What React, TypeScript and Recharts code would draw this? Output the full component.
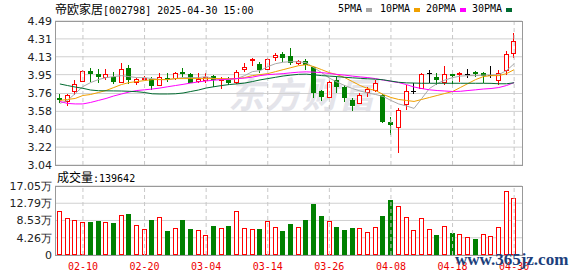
import React from 'react';
import { ComposedChart, Bar, Line, XAxis, YAxis, CartesianGrid, ReferenceLine } from 'recharts';

const dates = [
  '02-05', '02-06', '02-07', '02-10', '02-11', '02-12', '02-13', '02-14', '02-17', '02-18',
  '02-19', '02-20', '02-21', '02-24', '02-25', '02-26', '02-27', '02-28', '03-03', '03-04',
  '03-05', '03-06', '03-07', '03-10', '03-11', '03-12', '03-13', '03-14', '03-17', '03-18',
  '03-19', '03-20', '03-21', '03-24', '03-25', '03-26', '03-27', '03-28', '03-31', '04-01',
  '04-02', '04-03', '04-07', '04-08', '04-09', '04-10', '04-11', '04-14', '04-15', '04-16',
  '04-17', '04-18', '04-21', '04-22', '04-23', '04-24', '04-25', '04-28', '04-29', '04-30',
];

const opens = [
  3.71, 3.68, 3.785, 3.889, 3.986, 3.956, 3.929, 3.929, 3.879, 4.014,
  3.88, 3.903, 3.903, 3.846, 3.913, 3.913, 3.973, 3.956, 3.886, 3.896,
  3.936, 3.90, 3.896, 3.879, 4.003, 4.095, 4.054, 4.003, 4.124, 4.155,
  4.137, 4.064, 4.087, 4.024, 3.788, 3.728, 3.896, 3.822, 3.694, 3.661,
  3.778, 3.795, 3.745, 3.476, 3.419, 3.654, 3.785, 3.812, 3.963, 3.923,
  3.879, 3.96, 3.956, 3.956, 3.98, 3.963, 3.946, 3.90, 4.00, 4.171,
];
const highs = [
  3.75, 3.75, 3.896, 3.997, 4.02, 4.003, 4.007, 3.973, 4.064, 4.047,
  3.913, 3.936, 3.923, 3.97, 3.97, 3.98, 4.014, 3.963, 3.963, 3.963,
  3.946, 3.93, 3.93, 3.997, 4.064, 4.12, 4.074, 4.12, 4.165, 4.181,
  4.215, 4.10, 4.104, 4.037, 3.795, 3.896, 3.93, 3.845, 3.712, 3.762,
  3.828, 3.896, 3.752, 3.526, 3.611, 3.845, 3.863, 3.97, 3.997, 3.97,
  4.037, 3.97, 3.98, 4.007, 3.985, 3.98, 4.037, 3.997, 4.19, 4.372,
];
const lows = [
  3.66, 3.63, 3.745, 3.88, 3.873, 3.863, 3.896, 3.853, 3.863, 3.856,
  3.846, 3.889, 3.795, 3.836, 3.88, 3.896, 3.929, 3.863, 3.863, 3.863,
  3.823, 3.81, 3.846, 3.856, 3.98, 4.04, 3.963, 3.997, 4.09, 4.08,
  4.047, 4.05, 3.997, 3.712, 3.687, 3.712, 3.762, 3.677, 3.587, 3.654,
  3.728, 3.778, 3.466, 3.342, 3.164, 3.594, 3.752, 3.802, 3.863, 3.846,
  3.846, 3.846, 3.879, 3.913, 3.93, 3.869, 3.913, 3.846, 3.946, 4.115,
];
const closes = [
  3.69, 3.745, 3.853, 3.986, 3.953, 3.929, 3.953, 3.879, 4.003, 3.896,
  3.903, 3.913, 3.836, 3.923, 3.896, 3.97, 3.956, 3.869, 3.903, 3.929,
  3.896, 3.91, 3.869, 3.98, 4.03, 4.105, 3.997, 4.107, 4.147, 4.114,
  4.064, 4.087, 4.047, 3.762, 3.728, 3.879, 3.829, 3.712, 3.634, 3.745,
  3.802, 3.869, 3.476, 3.443, 3.594, 3.785, 3.785, 3.956, 3.963, 3.896,
  3.956, 3.939, 3.963, 3.956, 3.953, 3.939, 3.946, 3.963, 4.157, 4.289,
];

const ma5 = [
  3.66, 3.69, 3.76, 3.83, 3.87, 3.90, 3.92, 3.93, 3.94, 3.93,
  3.92, 3.92, 3.91, 3.90, 3.90, 3.91, 3.92, 3.92, 3.92, 3.93,
  3.91, 3.90, 3.90, 3.91, 3.94, 3.98, 3.99, 4.03, 4.06, 4.075,
  4.08, 4.08, 4.07, 4.02, 3.97, 3.915, 3.875, 3.84, 3.81, 3.785,
  3.765, 3.75, 3.73, 3.69, 3.655, 3.635, 3.61, 3.71, 3.81, 3.86,
  3.895, 3.92, 3.935, 3.94, 3.94, 3.945, 3.945, 3.95, 3.99, 4.06,
];
const ma10 = [
  3.69, 3.70, 3.71, 3.74, 3.75, 3.77, 3.79, 3.82, 3.85, 3.87,
  3.88, 3.89, 3.90, 3.90, 3.90, 3.91, 3.91, 3.91, 3.91, 3.91,
  3.91, 3.91, 3.91, 3.91, 3.92, 3.94, 3.95, 3.96, 3.98, 4.00,
  4.02, 4.04, 4.05, 4.03, 4.00, 3.97, 3.95, 3.92, 3.88, 3.84,
  3.81, 3.79, 3.75, 3.72, 3.70, 3.69, 3.68, 3.70, 3.72, 3.74,
  3.76, 3.78, 3.82, 3.86, 3.90, 3.93, 3.94, 3.94, 3.96, 4.00,
];
const ma20 = [
  3.68, 3.66, 3.655, 3.655, 3.67, 3.69, 3.71, 3.735, 3.755, 3.775,
  3.79, 3.797, 3.805, 3.815, 3.828, 3.84, 3.852, 3.865, 3.877, 3.886,
  3.894, 3.90, 3.905, 3.91, 3.915, 3.925, 3.94, 3.95, 3.955, 3.96,
  3.968, 3.975, 3.978, 3.975, 3.97, 3.962, 3.952, 3.945, 3.935, 3.927,
  3.92, 3.91, 3.895, 3.882, 3.87, 3.85, 3.825, 3.81, 3.797, 3.79,
  3.785, 3.78, 3.782, 3.79, 3.797, 3.805, 3.81, 3.82, 3.84, 3.87,
];
const ma30 = [
  3.856, 3.84, 3.825, 3.812, 3.795, 3.788, 3.787, 3.786, 3.785, 3.782,
  3.778, 3.77, 3.757, 3.755, 3.755, 3.757, 3.765, 3.78, 3.795, 3.815,
  3.828, 3.84, 3.85, 3.857, 3.865, 3.88, 3.897, 3.91, 3.923, 3.936,
  3.945, 3.953, 3.955, 3.948, 3.94, 3.935, 3.93, 3.923, 3.918, 3.913,
  3.908, 3.904, 3.898, 3.885, 3.873, 3.867, 3.865, 3.863, 3.863, 3.863,
  3.863, 3.863, 3.863, 3.863, 3.863, 3.863, 3.862, 3.858, 3.858, 3.868,
];

const volumes = [
  108700, 90700, 85700, 81500, 81500, 84000, 81500, 79900, 98800, 101300,
  73400, 63500, 86500, 93100, 59300, 66000, 86500, 64200, 61000, 48600,
  71700, 66700, 71700, 108700, 66000, 63500, 64200, 84000, 69200, 59300,
  76600, 68400, 86500, 126000, 96400, 83200, 69200, 61800, 66700, 66000,
  56800, 68400, 96400, 135900, 120300, 93100, 61000, 90700, 63500, 48600,
  70900, 54400, 51100, 43700, 38800, 51100, 46200, 68400, 157400, 139642,
];
// 1 = 涨 (red), 0 = 跌 (green)
const volUp = [
  1, 1, 1, 1, 0, 0, 1, 0, 1, 0,
  1, 1, 0, 1, 0, 1, 0, 0, 1, 1,
  0, 1, 0, 1, 1, 1, 0, 1, 1, 0,
  0, 1, 0, 0, 0, 1, 0, 0, 0, 1,
  1, 1, 0, 0, 1, 1, 1, 1, 1, 0,
  1, 0, 1, 1, 0, 1, 1, 1, 1, 1,
];

const labelDates = ['02-10', '02-20', '03-04', '03-14', '03-26', '04-08', '04-18', '04-30'];
const priceTicks = [3.04, 3.22, 3.40, 3.58, 3.76, 3.95, 4.13, 4.31, 4.49];
const volTicks = [0, 42600, 85300, 127900, 170500];
const volTickLabels = ['0', '4.26万', '8.53万', '12.79万', '17.05万'];

const data = dates.map((date, i) => ({
  date,
  open: opens[i],
  high: highs[i],
  low: lows[i],
  close: closes[i],
  ma5: ma5[i],
  ma10: ma10[i],
  ma20: ma20[i],
  ma30: ma30[i],
  vol: volumes[i],
  volUp: volUp[i] === 1,
}));

const RED = '#ff0000';
const GREEN = '#008000';
const MONO = '"DejaVu Sans Mono", monospace';
const CJK = '"Noto Sans CJK SC", sans-serif';

const Candle = (props: any) => {
  const { x, y, width, height, payload } = props;
  const { open, close, high, low } = payload;
  const top = Math.min(y, y + height);
  const bottom = Math.max(y, y + height);
  const span = high - low || 1;
  const py = (v: number) => Math.round(top + ((high - v) / span) * (bottom - top));
  const left = Math.round(x + width / 2 - 2.5);
  const cx = left + 2.5;
  if (close === open) {
    const yc = py(close) + 0.5;
    return (
      <g>
        <line x1={cx} x2={cx} y1={Math.round(top)} y2={Math.round(bottom)} stroke="#000" />
        <line x1={left} x2={left + 5} y1={yc} y2={yc} stroke="#000" />
      </g>
    );
  }
  const up = close > open;
  const color = up ? RED : GREEN;
  const yTop = py(Math.max(open, close));
  const yBot = py(Math.min(open, close));
  return (
    <g>
      <line x1={cx} x2={cx} y1={Math.round(top)} y2={Math.round(bottom)} stroke={color} />
      {up ? (
        <rect x={left + 0.5} y={yTop + 0.5} width={4} height={Math.max(1, yBot - yTop)} fill="#fff" stroke={color} />
      ) : (
        <rect x={left} y={yTop} width={5} height={Math.max(1, yBot - yTop)} fill={color} />
      )}
    </g>
  );
};

const VolBar = (props: any) => {
  const { x, y, width, height, payload } = props;
  const left = Math.round(x + width / 2 - 2.5);
  const top = Math.round(y);
  const h = Math.round(y + height) - top;
  if (payload.volUp) {
    return <rect x={left + 0.5} y={top + 0.5} width={4} height={h - 1} fill="#fff" stroke={RED} />;
  }
  return <rect x={left} y={top} width={5} height={h} fill={GREEN} />;
};

const DateTick = (props: any) => {
  const { x, y, payload } = props;
  if (!labelDates.includes(payload.value)) return <g />;
  return (
    <text x={x} y={y} dy={7} textAnchor="middle" fill="#ee0000" fontSize={10} fontFamily={MONO}>
      {payload.value}
    </text>
  );
};

const legendItems = [
  { label: '5PMA', color: '#a8a8a8', x: 338 },
  { label: '10PMA', color: '#f0a000', x: 380 },
  { label: '20PMA', color: '#ff00ff', x: 426 },
  { label: '30PMA', color: '#006a30', x: 472 },
];

const frame = (top: number, height: number): React.CSSProperties => ({
  position: 'absolute',
  left: 55,
  top,
  width: 468,
  height,
  border: '1px solid #999',
  boxSizing: 'border-box',
  pointerEvents: 'none',
});

export default function App() {
  return (
    <div
      style={{
        position: 'absolute',
        left: 0,
        top: 0,
        width: 578,
        height: 276,
        background: '#fff',
        overflow: 'hidden',
        fontFamily: '"DejaVu Sans", sans-serif',
      }}
    >
      <div
        style={{
          position: 'absolute',
          left: 228,
          top: 72,
          fontSize: 36,
          fontWeight: 'bold',
          fontStyle: 'italic',
          color: '#e4e4ea',
          fontFamily: CJK,
          lineHeight: '40px',
          letterSpacing: 1,
          whiteSpace: 'nowrap',
        }}
      >
        东方财富
      </div>

      <div style={{ position: 'absolute', left: 55, top: 2, lineHeight: '14px', whiteSpace: 'nowrap', color: '#000' }}>
        <span style={{ fontFamily: CJK, fontSize: 12 }}>帝欧家居</span>
        <span style={{ fontFamily: MONO, fontSize: 10 }}>[002798] 2025-04-30 15:00</span>
      </div>

      {legendItems.map((it) => (
        <React.Fragment key={it.label}>
          <div style={{ position: 'absolute', left: it.x, top: 2, lineHeight: '14px', fontFamily: MONO, fontSize: 10, color: '#000' }}>
            {it.label}
          </div>
          <div style={{ position: 'absolute', left: it.x + (it.label.length === 4 ? 28 : 34), top: 8, width: 6, height: 4, background: it.color }} />
        </React.Fragment>
      ))}

      <div style={{ position: 'absolute', left: 0, top: 0 }}>
        <ComposedChart width={578} height={176} data={data} margin={{ top: 21, right: 56, bottom: 11, left: 0 }}>
          <CartesianGrid vertical={false} stroke="#d0d0d0" />
          <XAxis dataKey="date" hide padding={{ left: 1, right: 4 }} />
          <YAxis
            domain={[3.04, 4.49]}
            ticks={priceTicks}
            interval={0}
            allowDataOverflow
            width={55}
            axisLine={false}
            tickLine={false}
            tickSize={1}
            tickMargin={2}
            tick={{ fill: '#222', fontSize: 11 }}
            tickFormatter={(v: number) => v.toFixed(2)}
          />
          {labelDates.map((d) => (
            <ReferenceLine key={d} x={d} stroke="#c8c8c8" strokeDasharray="4 3" />
          ))}
          <Bar dataKey={(d: any) => [d.low, d.high]} barSize={5} shape={<Candle />} isAnimationActive={false} />
          <Line type="linear" dataKey="ma5" stroke="#a8a8a8" strokeWidth={1} dot={false} activeDot={false} isAnimationActive={false} />
          <Line type="linear" dataKey="ma10" stroke="#f0a000" strokeWidth={1} dot={false} activeDot={false} isAnimationActive={false} />
          <Line type="linear" dataKey="ma20" stroke="#ff00ff" strokeWidth={1} dot={false} activeDot={false} isAnimationActive={false} />
          <Line type="linear" dataKey="ma30" stroke="#006a30" strokeWidth={1} dot={false} activeDot={false} isAnimationActive={false} />
        </ComposedChart>
      </div>
      <div style={frame(21, 145)} />

      <div style={{ position: 'absolute', left: 57, top: 170, lineHeight: '14px', whiteSpace: 'nowrap', color: '#000' }}>
        <span style={{ fontFamily: CJK, fontSize: 12 }}>成交量</span>
        <span style={{ fontFamily: MONO, fontSize: 10 }}>:139642</span>
      </div>

      <div style={{ position: 'absolute', left: 0, top: 160 }}>
        <ComposedChart width={578} height={116} data={data} margin={{ top: 26, right: 56, bottom: 1, left: 0 }}>
          <CartesianGrid vertical={false} stroke="#d0d0d0" />
          <XAxis
            dataKey="date"
            padding={{ left: 1, right: 4 }}
            height={20}
            axisLine={false}
            tickLine={false}
            interval={0}
            tick={<DateTick />}
          />
          <YAxis
            domain={[0, 170500]}
            ticks={volTicks}
            interval={0}
            allowDataOverflow
            width={55}
            axisLine={false}
            tickLine={false}
            tickSize={1}
            tickMargin={2}
            tick={{ fill: '#222', fontSize: 11 }}
            tickFormatter={(v: number) => volTickLabels[volTicks.indexOf(v)] ?? ''}
          />
          {labelDates.map((d) => (
            <ReferenceLine key={d} x={d} stroke="#c8c8c8" strokeDasharray="4 3" />
          ))}
          <Bar dataKey="vol" barSize={5} shape={<VolBar />} isAnimationActive={false} />
        </ComposedChart>
      </div>
      <div style={frame(186, 70)} />

      <div
        style={{
          position: 'absolute',
          left: 455,
          top: 250,
          fontFamily: '"Liberation Serif", serif',
          fontWeight: 'bold',
          fontSize: 17,
          lineHeight: '20px',
          color: '#1c3f7c',
          whiteSpace: 'nowrap',
        }}
      >
        www.365jz.com
      </div>
    </div>
  );
}
